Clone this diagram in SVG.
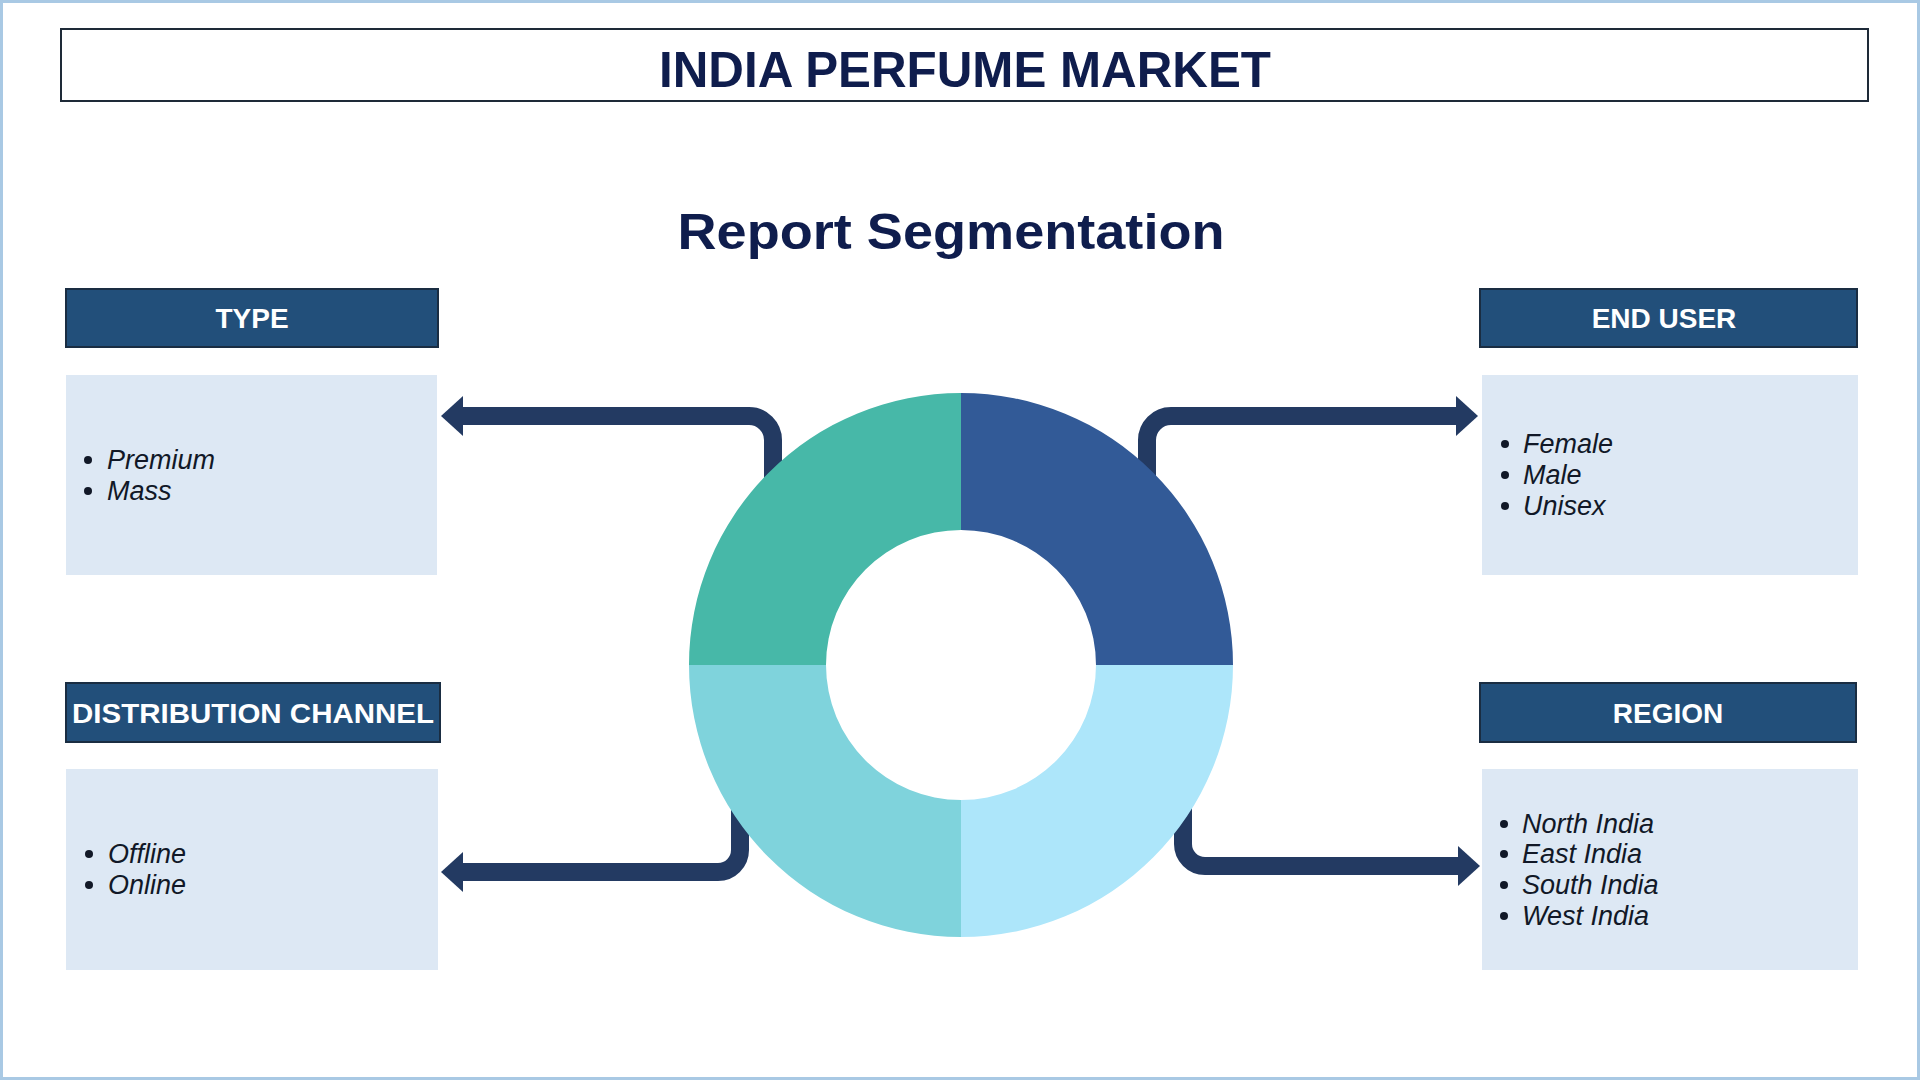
<svg xmlns="http://www.w3.org/2000/svg" width="1920" height="1080" viewBox="0 0 1920 1080">
  <defs>
    <style>
      .hdr { fill: #224f7a; stroke: #1a2d42; stroke-width: 2; }
      .hdrt { font-family: "Liberation Sans", Arial, sans-serif; font-weight: bold; font-size: 28px; fill: #ffffff; text-anchor: middle; }
      .box { fill: #dde8f4; }
      .item { font-family: "Liberation Sans", Arial, sans-serif; font-style: italic; font-size: 27px; fill: #111827; }
      .dot { fill: #111827; }
      .conn { fill: none; stroke: #233a62; stroke-width: 18; marker-end: url(#head); }
    </style>
    <marker id="head" viewBox="0 0 22 40" refX="2" refY="20" markerWidth="22" markerHeight="40" markerUnits="userSpaceOnUse" orient="auto">
      <path d="M0,0 L22,20 L0,40 Z" fill="#233a62"/>
    </marker>
  </defs>

  <rect x="0" y="0" width="1920" height="1080" fill="#ffffff"/>
  <rect x="1.5" y="1.5" width="1917" height="1077" fill="none" stroke="#a9c9e4" stroke-width="3"/>

  <g id="title">
    <rect x="61" y="29" width="1807" height="72" fill="#ffffff" stroke="#1e2a38" stroke-width="2"/>
    <text x="965" y="87" font-family="'Liberation Sans', Arial, sans-serif" font-weight="bold" font-size="50" fill="#0f1d4d" text-anchor="middle" textLength="612" lengthAdjust="spacingAndGlyphs">INDIA PERFUME MARKET</text>
  </g>

  <g id="subtitle">
    <text x="951" y="249" font-family="'Liberation Sans', Arial, sans-serif" font-weight="bold" font-size="50" fill="#0f1d4d" text-anchor="middle" textLength="547" lengthAdjust="spacingAndGlyphs">Report Segmentation</text>
  </g>

  <g id="connectors">
    <path class="conn" d="M773,480 V440 A24,24 0 0 0 749,416 H461"/>
    <path class="conn" d="M1147,480 V440 A24,24 0 0 1 1171,416 H1458"/>
    <path class="conn" d="M740,800 V850 A22,22 0 0 1 718,872 H461"/>
    <path class="conn" d="M1183,800 V844 A22,22 0 0 0 1205,866 H1460"/>
  </g>

  <g id="donut">
    <path d="M689,665 A272,272 0 0 1 961,393 L961,530 A135,135 0 0 0 826,665 Z" fill="#47b8a8"/>
    <path d="M961,393 A272,272 0 0 1 1233,665 L1096,665 A135,135 0 0 0 961,530 Z" fill="#325a97"/>
    <path d="M1233,665 A272,272 0 0 1 961,937 L961,800 A135,135 0 0 0 1096,665 Z" fill="#ade6fa"/>
    <path d="M961,937 A272,272 0 0 1 689,665 L826,665 A135,135 0 0 0 961,800 Z" fill="#7fd3dc"/>
  </g>

  <g id="type">
    <rect class="hdr" x="66" y="289" width="372" height="58"/>
    <text class="hdrt" x="252" y="328">TYPE</text>
    <rect class="box" x="66" y="375" width="371" height="200"/>
    <circle class="dot" cx="88" cy="460" r="4"/>
    <text class="item" x="107" y="469">Premium</text>
    <circle class="dot" cx="88" cy="491" r="4"/>
    <text class="item" x="107" y="500">Mass</text>
  </g>

  <g id="end-user">
    <rect class="hdr" x="1480" y="289" width="377" height="58"/>
    <text class="hdrt" x="1664" y="328">END USER</text>
    <rect class="box" x="1482" y="375" width="376" height="200"/>
    <circle class="dot" cx="1505" cy="444" r="4"/>
    <text class="item" x="1523" y="453">Female</text>
    <circle class="dot" cx="1505" cy="475" r="4"/>
    <text class="item" x="1523" y="484">Male</text>
    <circle class="dot" cx="1505" cy="506" r="4"/>
    <text class="item" x="1523" y="515">Unisex</text>
  </g>

  <g id="distribution-channel">
    <rect class="hdr" x="66" y="683" width="374" height="59"/>
    <text class="hdrt" x="253" y="723" textLength="362" lengthAdjust="spacingAndGlyphs">DISTRIBUTION CHANNEL</text>
    <rect class="box" x="66" y="769" width="372" height="201"/>
    <circle class="dot" cx="89" cy="854" r="4"/>
    <text class="item" x="108" y="863">Offline</text>
    <circle class="dot" cx="89" cy="885" r="4"/>
    <text class="item" x="108" y="894">Online</text>
  </g>

  <g id="region">
    <rect class="hdr" x="1480" y="683" width="376" height="59"/>
    <text class="hdrt" x="1668" y="723">REGION</text>
    <rect class="box" x="1482" y="769" width="376" height="201"/>
    <circle class="dot" cx="1504" cy="824" r="4"/>
    <text class="item" x="1522" y="833">North India</text>
    <circle class="dot" cx="1504" cy="854" r="4"/>
    <text class="item" x="1522" y="863">East India</text>
    <circle class="dot" cx="1504" cy="885" r="4"/>
    <text class="item" x="1522" y="894">South India</text>
    <circle class="dot" cx="1504" cy="916" r="4"/>
    <text class="item" x="1522" y="925">West India</text>
  </g>
</svg>
